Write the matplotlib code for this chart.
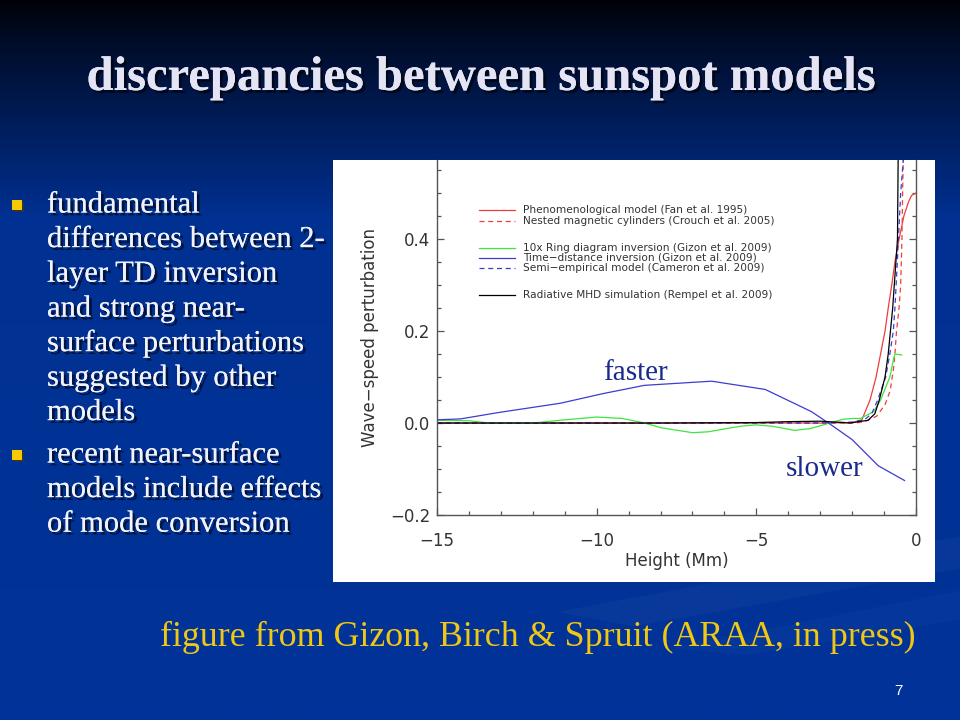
import numpy as np
import matplotlib
matplotlib.use("Agg")
import matplotlib.pyplot as plt
from matplotlib.patches import Rectangle, Polygon
from matplotlib.lines import Line2D
import matplotlib.patheffects as pe

# ---------------- data ----------------
fan_x = [-15, -3.0, -2.0, -1.70, -1.44, -1.25, -1.11, -0.97, -0.87, -0.76, -0.66, -0.53, -0.38, -0.24, -0.14, 0.0]
fan_y = [0.0, 0.0, 0.001, 0.006, 0.050, 0.100, 0.150, 0.200, 0.250, 0.300, 0.350, 0.400, 0.450, 0.480, 0.495, 0.500]

crouch_x = [-15, -2.5, -1.9, -1.6, -1.23, -0.97, -0.81, -0.71, -0.66, -0.61, -0.53, -0.48, -0.44, -0.42, -0.40, -0.38]
crouch_y = [0.0, 0.0, 0.0, 0.003, 0.015, 0.040, 0.070, 0.115, 0.150, 0.200, 0.250, 0.300, 0.400, 0.500, 0.570, 0.650]

ring_x = [-15, -14, -13.5, -12, -11, -10, -9.2, -8.5, -8, -7, -6.5, -5.5, -5, -4.5, -3.8, -3.3,
          -2.8, -2.3, -2.0, -1.74, -1.32, -1.11, -0.82, -0.69, -0.66, -0.45]
ring_y = [0.006, 0.005, 0.001, 0.0, 0.007, 0.013, 0.010, 0.0, -0.010, -0.021, -0.019, -0.007,
          -0.004, -0.007, -0.016, -0.012, -0.002, 0.008, 0.010, 0.010, 0.025, 0.050, 0.100, 0.143, 0.150, 0.148]

td_x = [-15, -14.26, -13.06, -11.14, -9.8, -8.5, -6.4, -4.72, -3.28, -2.74, -2.0, -1.18, -0.36]
td_y = [0.007, 0.009, 0.023, 0.043, 0.064, 0.082, 0.091, 0.073, 0.025, 0.0, -0.036, -0.093, -0.125]

cam_x = [-15, -3.0, -2.0, -1.6, -1.39, -1.2, -0.95, -0.82, -0.71, -0.66, -0.60, -0.55, -0.48, -0.40, -0.37]
cam_y = [0.0, 0.0, 0.002, 0.008, 0.020, 0.050, 0.100, 0.150, 0.200, 0.250, 0.330, 0.400, 0.500, 0.570, 0.650]

rem_x = [-15, -8, -5, -4, -3, -2.5, -2.07, -1.5, -1.29, -1.15, -0.97, -0.87, -0.80, -0.73, -0.68, -0.63, -0.58, -0.55]
rem_y = [0.0, 0.0, 0.001, 0.003, 0.004, 0.002, 0.0, 0.006, 0.020, 0.050, 0.100, 0.150, 0.200, 0.250, 0.300, 0.350, 0.400, 0.650]

series = [
    ("Phenomenological model (Fan et al. 1995)", fan_x, fan_y, "#f03c3c", "-"),
    ("Nested magnetic cylinders (Crouch et al. 2005)", crouch_x, crouch_y, "#f03c3c", (0, (4, 3))),
    ("10x Ring diagram inversion (Gizon et al. 2009)", ring_x, ring_y, "#3ce63c", "-"),
    ("Time\u2212distance inversion (Gizon et al. 2009)", td_x, td_y, "#3c3cd2", "-"),
    ("Semi\u2212empirical model (Cameron et al. 2009)", cam_x, cam_y, "#3c3cd2", (0, (4, 3))),
    ("Radiative MHD simulation (Rempel et al. 2009)", rem_x, rem_y, "#000000", "-"),
]

title = "discrepancies between sunspot models"
bullet1 = ["fundamental", "differences between 2-", "layer TD inversion", "and strong near-",
           "surface perturbations", "suggested by other", "models"]
bullet2 = ["recent near-surface", "models include effects", "of mode conversion"]
caption = "figure from Gizon, Birch & Spruit (ARAA, in press)"

# ---------------- figure ----------------
W, H = 960, 720
fig = plt.figure(figsize=(9.6, 7.2), dpi=100)

# background gradient
bg = fig.add_axes([0, 0, 1, 1])
bg.set_axis_off()
yy = np.linspace(0, 1, 400)
stops = np.array([0.0, 0.03, 0.08, 0.20, 0.30, 1.0])
rs = [0.00, 0.00, 0.00, 0.00, 0.00, 0.00]
gs = [0.00, 0.03, 0.06, 0.13, 0.19, 0.20]
bs = [0.03, 0.10, 0.20, 0.40, 0.57, 0.60]
col = np.stack([np.interp(yy, stops, rs), np.interp(yy, stops, gs), np.interp(yy, stops, bs)], axis=1)
img = np.repeat(col[:, None, :], 2, axis=1)
bg.imshow(img, extent=[0, 1, 1, 0], aspect="auto", zorder=0)
bg.set_xlim(0, 1)
bg.set_ylim(1, 0)
# faint diagonal streaks bottom right
bg.add_patch(Polygon([[0.58, 0.85], [1.0, 0.745], [1.0, 0.79], [0.66, 0.87]], closed=True,
                     facecolor="#ffffff", alpha=0.03, edgecolor="none", zorder=1))
bg.add_patch(Polygon([[0.70, 0.90], [1.0, 0.82], [1.0, 0.86], [0.78, 0.91]], closed=True,
                     facecolor="#ffffff", alpha=0.025, edgecolor="none", zorder=1))

shadow = [pe.withSimplePatchShadow(offset=(2, -2), shadow_rgbFace="#000000", alpha=0.6), pe.Normal()]

# title
fig.text(481 / W, 1 - 78 / H, title, ha="center", va="center", color="#e4e4f4",
         fontsize=35, fontweight="bold", family="Liberation Serif", path_effects=shadow)

# bullets
def bullet(y0, lines):
    fig.patches.append(Rectangle((12 / W, 1 - (y0 + 5) / H), 10 / W, 10 / H, transform=fig.transFigure,
                                 facecolor="#f8c800", edgecolor="none", zorder=3,
                                 path_effects=[pe.withSimplePatchShadow(offset=(1.5, -1.5), alpha=0.6), pe.Normal()]))
    for i, ln in enumerate(lines):
        fig.text(47 / W, 1 - (y0 + i * 34.6) / H, ln, ha="left", va="center", color="#f2f2fa",
                 fontsize=22, family="Liberation Serif", path_effects=shadow)

bullet(205, bullet1)
bullet(455, bullet2)

# caption and page number
fig.text(538 / W, 1 - 637 / H, caption, ha="center", va="center", color="#f0c814",
         fontsize=25.8, family="Liberation Serif")
fig.text(898 / W, 1 - 691 / H, "7", ha="center", va="center", color="#ffffff",
         fontsize=11, family="Liberation Sans")

# white panel
fig.patches.append(Rectangle((333 / W, 1 - 582 / H), 602 / W, 422 / H, transform=fig.transFigure,
                             facecolor="white", edgecolor="none", zorder=2))

# chart axes
ax = fig.add_axes([437 / W, 1 - 515 / H, 479 / W, 355 / H])
ax.set_zorder(5)
ax.patch.set_alpha(0)
for label, xs, ys, c, ls in series:
    ax.plot(xs, ys, color=c, linestyle=ls, linewidth=0.9)

ax.set_xlim(-15, 0)
ax.set_ylim(-0.2, 0.572)
ax.set_xticks([-15, -10, -5, 0])
ax.set_xticklabels(["\u221215", "\u221210", "\u22125", "0"])
ax.set_xticks(np.arange(-15, 1, 1), minor=True)
ax.set_yticks([-0.2, 0.0, 0.2, 0.4])
ax.set_yticklabels(["\u22120.2", "0.0", "0.2", "0.4"])
ax.set_yticks(np.arange(-0.2, 0.58, 0.05), minor=True)
ax.spines["top"].set_visible(False)
for s in ["left", "right", "bottom"]:
    ax.spines[s].set_color("#555555")
    ax.spines[s].set_linewidth(1.0)
ax.tick_params(which="both", direction="in", color="#555555", right=True, top=False,
               labelcolor="#333333", labelsize=12)
ax.tick_params(which="major", length=5, width=0.9)
ax.tick_params(which="minor", length=3, width=0.9)
ax.tick_params(axis="x", pad=12)
ax.tick_params(axis="y", pad=5)
for t in ax.get_xticklabels() + ax.get_yticklabels():
    t.set_family("DejaVu Sans")
ax.set_xlabel("Height (Mm)", fontsize=12, color="#333333", labelpad=2)
ax.set_ylabel("Wave\u2212speed perturbation", fontsize=12, color="#333333", labelpad=8)

# in-plot legend (IDL style)
rows = [0.859, 0.828, 0.752, 0.724, 0.696, 0.620]
for (label, xs, ys, c, ls), ry in zip(series, rows):
    ax.add_line(Line2D([0.0877, 0.1628], [ry, ry], transform=ax.transAxes, color=c,
                       linestyle=ls, linewidth=0.9))
    ax.text(0.1795, ry, label, transform=ax.transAxes, ha="left", va="center",
            fontsize=7.6, color="#333333")

# annotations
ax.text(-9.81, 0.109, "faster", color="#1a2a8c", fontsize=21, family="Liberation Serif",
        ha="left", va="center")
ax.text(-4.08, -0.099, "slower", color="#1a2a8c", fontsize=21, family="Liberation Serif",
        ha="left", va="center")

fig.savefig("out.png", dpi=100)
